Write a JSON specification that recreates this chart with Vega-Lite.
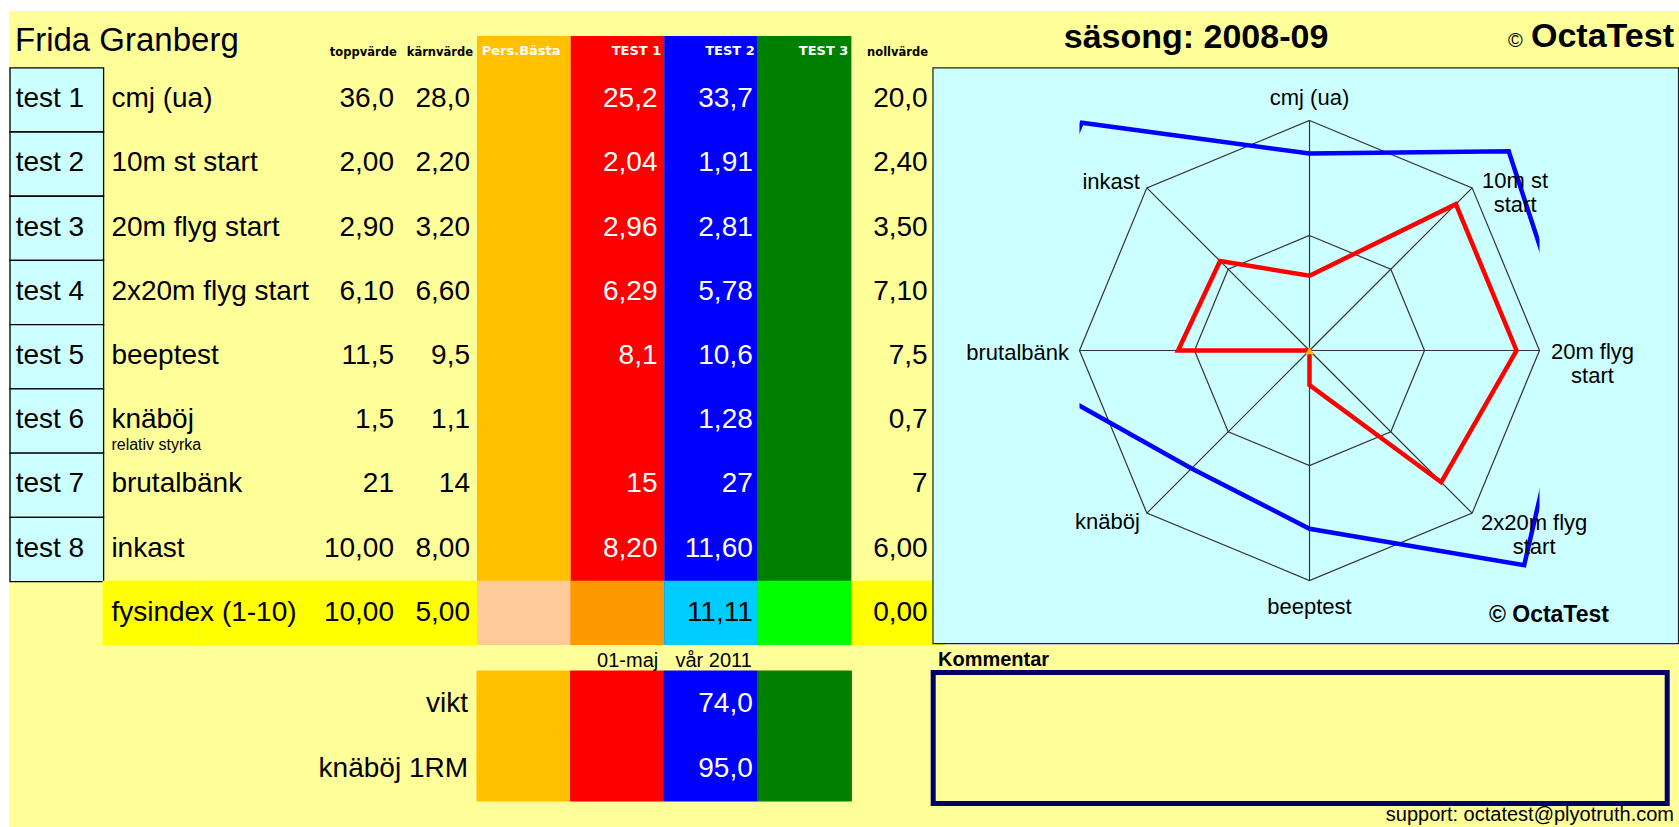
{
  "$schema": "https://vega.github.io/schema/vega-lite/v6.json",
  "background": "#FFFFFF",
  "padding": {"left": 9, "top": 11, "right": 0, "bottom": 0},
  "config": {"view": {"stroke": null}, "font": "Liberation Sans", "text": {"font": "Liberation Sans"}},
  "datasets": {
    "athlete": [{"name": "Frida Granberg", "season": "2008-09"}],
    "heads": [
      {"col": "topp", "label": "toppvärde"},
      {"col": "karn", "label": "kärnvärde"},
      {"col": "pers", "label": "Pers.Bästa"},
      {"col": "t1", "label": "TEST 1"},
      {"col": "t2", "label": "TEST 2"},
      {"col": "t3", "label": "TEST 3"},
      {"col": "noll", "label": "nollvärde"}
    ],
    "tests": [
      {"id": "test 1", "name": "cmj (ua)", "axisLabel": "cmj (ua)", "i": 0, "topp": 36.0, "karn": 28.0, "t1": 25.2, "t2": 33.7, "noll": 20.0, "refDec": 1, "testDec": 1},
      {"id": "test 2", "name": "10m st start", "axisLabel": "10m st\nstart", "i": 1, "topp": 2.00, "karn": 2.20, "t1": 2.04, "t2": 1.91, "noll": 2.40, "refDec": 2, "testDec": 2},
      {"id": "test 3", "name": "20m flyg start", "axisLabel": "20m flyg\nstart", "i": 2, "topp": 2.90, "karn": 3.20, "t1": 2.96, "t2": 2.81, "noll": 3.50, "refDec": 2, "testDec": 2},
      {"id": "test 4", "name": "2x20m flyg start", "axisLabel": "2x20m flyg\nstart", "i": 3, "topp": 6.10, "karn": 6.60, "t1": 6.29, "t2": 5.78, "noll": 7.10, "refDec": 2, "testDec": 2},
      {"id": "test 5", "name": "beeptest", "axisLabel": "beeptest", "i": 4, "topp": 11.5, "karn": 9.5, "t1": 8.1, "t2": 10.6, "noll": 7.5, "refDec": 1, "testDec": 1},
      {"id": "test 6", "name": "knäböj", "sub": "relativ styrka", "axisLabel": "knäböj", "i": 5, "topp": 1.5, "karn": 1.1, "t2": 1.28, "noll": 0.7, "refDec": 1, "testDec": 2},
      {"id": "test 7", "name": "brutalbänk", "axisLabel": "brutalbänk", "i": 6, "topp": 21, "karn": 14, "t1": 15, "t2": 27, "noll": 7, "refDec": 0, "testDec": 0},
      {"id": "test 8", "name": "inkast", "axisLabel": "inkast", "i": 7, "topp": 10.00, "karn": 8.00, "t1": 8.20, "t2": 11.60, "noll": 6.00, "refDec": 2, "testDec": 2}
    ],
    "fys": [
      {"col": "label", "text": "fysindex (1-10)"},
      {"col": "label2"},
      {"col": "topp", "v": 10},
      {"col": "karn", "v": 5},
      {"col": "pers"},
      {"col": "t1"},
      {"col": "t2", "v": 11.11},
      {"col": "t3"},
      {"col": "noll", "v": 0}
    ],
    "body": [
      {"row": "vikt", "label": "vikt", "t2": 74.0},
      {"row": "knaboj", "label": "knäböj 1RM", "t2": 95.0}
    ],
    "dates": [
      {"col": "t1", "label": "01-maj"},
      {"col": "t2", "label": "vår 2011"}
    ]
  },
  "spacing": 0,
  "vconcat": [
    {
      "spacing": 0,
      "bounds": "flush",
      "hconcat": [
        {
          "width": 936, "height": 56,
          "view": {"fill": "#FFFF99"},
          "data": {"name": "heads"},
          "layer": [
            {
              "transform": [{"filter": "indexof(['pers','t1','t2','t3'], datum.col) >= 0"}],
              "mark": {"type": "rect"},
              "encoding": {
                "x": {"field": "col", "type": "nominal", "scale": {"type": "band", "domain": ["test","label","label2","topp","karn","pers","t1","t2","t3","noll"], "paddingInner": 0, "paddingOuter": 0}, "axis": null},
                "y": {"datum": "h", "type": "nominal", "scale": {"type": "band", "domain": ["h"], "paddingInner": 0, "paddingOuter": 0.403, "align": 1}, "axis": null},
                "color": {"field": "col", "type": "nominal", "scale": {"domain": ["pers","t1","t2","t3"], "range": ["#FFC000","#FF0000","#0000FF","#008000"]}, "legend": null}
              }
            },
            {
              "transform": [{"filter": "datum.col == 'pers'"}],
              "mark": {"type": "text", "align": "left", "baseline": "middle", "dx": 4.7, "font": "DejaVu Sans", "fontWeight": "bold", "fontSize": 13, "fill": "#FFFFFF"},
              "encoding": {
                "x": {"field": "col", "type": "nominal", "bandPosition": 0, "scale": {"type": "band", "domain": ["test","label","label2","topp","karn","pers","t1","t2","t3","noll"], "paddingInner": 0, "paddingOuter": 0}, "axis": null},
                "y": {"datum": "h", "type": "nominal", "scale": {"type": "band", "domain": ["h"], "paddingInner": 0, "paddingOuter": 0.403, "align": 1}, "axis": null},
                "text": {"field": "label"}
              }
            },
            {
              "transform": [{"filter": "indexof(['t1','t2','t3'], datum.col) >= 0"}],
              "mark": {"type": "text", "align": "right", "baseline": "middle", "dx": -3, "font": "DejaVu Sans", "fontWeight": "bold", "fontSize": 13, "fill": "#FFFFFF"},
              "encoding": {
                "x": {"field": "col", "type": "nominal", "bandPosition": 1, "scale": {"type": "band", "domain": ["test","label","label2","topp","karn","pers","t1","t2","t3","noll"], "paddingInner": 0, "paddingOuter": 0}, "axis": null},
                "y": {"datum": "h", "type": "nominal", "scale": {"type": "band", "domain": ["h"], "paddingInner": 0, "paddingOuter": 0.403, "align": 1}, "axis": null},
                "text": {"field": "label"}
              }
            },
            {
              "transform": [{"filter": "datum.col == 'topp'"}],
              "mark": {"type": "text", "align": "right", "baseline": "middle", "dx": 13.3, "dy": 2, "font": "DejaVu Sans", "fontWeight": "bold", "fontSize": 11.5, "fill": "#000000"},
              "encoding": {
                "x": {"field": "col", "type": "nominal", "bandPosition": 1, "scale": {"type": "band", "domain": ["test","label","label2","topp","karn","pers","t1","t2","t3","noll"], "paddingInner": 0, "paddingOuter": 0}, "axis": null},
                "y": {"datum": "h", "type": "nominal", "scale": {"type": "band", "domain": ["h"], "paddingInner": 0, "paddingOuter": 0.403, "align": 1}, "axis": null},
                "text": {"field": "label"}
              }
            },
            {
              "transform": [{"filter": "datum.col == 'karn'"}],
              "mark": {"type": "text", "align": "right", "baseline": "middle", "dx": -4, "dy": 2, "font": "DejaVu Sans", "fontWeight": "bold", "fontSize": 11.5, "fill": "#000000"},
              "encoding": {
                "x": {"field": "col", "type": "nominal", "bandPosition": 1, "scale": {"type": "band", "domain": ["test","label","label2","topp","karn","pers","t1","t2","t3","noll"], "paddingInner": 0, "paddingOuter": 0}, "axis": null},
                "y": {"datum": "h", "type": "nominal", "scale": {"type": "band", "domain": ["h"], "paddingInner": 0, "paddingOuter": 0.403, "align": 1}, "axis": null},
                "text": {"field": "label"}
              }
            },
            {
              "transform": [{"filter": "datum.col == 'noll'"}],
              "mark": {"type": "text", "align": "right", "baseline": "middle", "dx": -17, "dy": 2, "font": "DejaVu Sans", "fontWeight": "bold", "fontSize": 11.5, "fill": "#000000"},
              "encoding": {
                "x": {"field": "col", "type": "nominal", "bandPosition": 1, "scale": {"type": "band", "domain": ["test","label","label2","topp","karn","pers","t1","t2","t3","noll"], "paddingInner": 0, "paddingOuter": 0}, "axis": null},
                "y": {"datum": "h", "type": "nominal", "scale": {"type": "band", "domain": ["h"], "paddingInner": 0, "paddingOuter": 0.403, "align": 1}, "axis": null},
                "text": {"field": "label"}
              }
            },
            {
              "data": {"name": "athlete"},
              "mark": {"type": "text", "align": "left", "baseline": "alphabetic", "dx": 6, "dy": 15, "fontSize": 33, "fill": "#000000"},
              "encoding": {
                "x": {"datum": "test", "type": "nominal", "bandPosition": 0, "scale": {"type": "band", "domain": ["test","label","label2","topp","karn","pers","t1","t2","t3","noll"], "paddingInner": 0, "paddingOuter": 0}, "axis": null},
                "y": {"datum": "h", "type": "nominal", "bandPosition": 0, "scale": {"type": "band", "domain": ["h"], "paddingInner": 0, "paddingOuter": 0.403, "align": 1}, "axis": null},
                "text": {"field": "name"}
              }
            }
          ]
        },
        {
          "width": 734, "height": 56,
          "view": {"fill": "#FFFF99"},
          "data": {"name": "athlete"},
          "layer": [
            {
              "transform": [{"calculate": "'säsong: ' + datum.season", "as": "st"}],
              "mark": {"type": "text", "align": "center", "baseline": "middle", "fontSize": 34, "fontWeight": "bold", "fill": "#000000"},
              "encoding": {
                "x": {"datum": "s", "type": "nominal", "bandPosition": 0.342, "scale": {"type": "band", "domain": ["s"], "paddingInner": 0, "paddingOuter": 0}, "axis": null},
                "y": {"datum": "s", "type": "nominal", "bandPosition": 0.477, "scale": {"type": "band", "domain": ["s"], "paddingInner": 0, "paddingOuter": 0}, "axis": null},
                "text": {"field": "st"}
              }
            },
            {
              "mark": {"type": "text", "align": "right", "baseline": "middle", "dx": -5, "fontSize": 34, "fontWeight": "bold", "fill": "#000000"},
              "encoding": {
                "x": {"datum": "s", "type": "nominal", "bandPosition": 1, "scale": {"type": "band", "domain": ["s"], "paddingInner": 0, "paddingOuter": 0}, "axis": null},
                "y": {"datum": "s", "type": "nominal", "bandPosition": 0.46, "scale": {"type": "band", "domain": ["s"], "paddingInner": 0, "paddingOuter": 0}, "axis": null},
                "text": {"value": "OctaTest"}
              }
            },
            {
              "mark": {"type": "text", "align": "right", "baseline": "middle", "fontSize": 20, "fill": "#000000"},
              "encoding": {
                "x": {"datum": "s", "type": "nominal", "bandPosition": 0.787, "scale": {"type": "band", "domain": ["s"], "paddingInner": 0, "paddingOuter": 0}, "axis": null},
                "y": {"datum": "s", "type": "nominal", "bandPosition": 0.53, "scale": {"type": "band", "domain": ["s"], "paddingInner": 0, "paddingOuter": 0}, "axis": null},
                "text": {"value": "©"}
              }
            }
          ]
        }
      ]
    },
    {
      "spacing": 134.5,
      "bounds": "flush",
      "hconcat": [
        {
          "width": 936, "height": 578,
          "view": {"fill": "#FFFF99"},
          "data": {"name": "tests"},
          "layer": [
            {
              "transform": [{"filter": "datum.i == 0"}, {"fold": ["pers","t1","t2","t3"], "as": ["col","v"]}],
              "mark": {"type": "rect"},
              "encoding": {
                "x": {"field": "col", "type": "nominal", "scale": {"type": "band", "domain": ["test","label","label2","topp","karn","pers","t1","t2","t3","noll"], "paddingInner": 0, "paddingOuter": 0}, "axis": null},
                "color": {"field": "col", "type": "nominal", "scale": {"domain": ["pers","t1","t2","t3"], "range": ["#FFC000","#FF0000","#0000FF","#008000"]}, "legend": null}
              }
            },
            {
              "mark": {"type": "rect", "fill": "#CCFFFF", "stroke": "#000000", "strokeWidth": 1.3, "xOffset": 1, "x2Offset": 1.7, "yOffset": 0.8},
              "encoding": {
                "x": {"datum": "test", "type": "nominal", "scale": {"type": "band", "domain": ["test","label","label2","topp","karn","pers","t1","t2","t3","noll"], "paddingInner": 0, "paddingOuter": 0}, "axis": null},
                "y": {"field": "id", "type": "nominal", "scale": {"type": "band", "domain": ["test 1","test 2","test 3","test 4","test 5","test 6","test 7","test 8","fys"], "paddingInner": 0, "paddingOuter": 0}, "axis": null}
              }
            },
            {
              "mark": {"type": "text", "align": "left", "baseline": "middle", "dx": 6.7, "fontSize": 28, "fill": "#000000"},
              "encoding": {
                "x": {"datum": "test", "type": "nominal", "bandPosition": 0, "scale": {"type": "band", "domain": ["test","label","label2","topp","karn","pers","t1","t2","t3","noll"], "paddingInner": 0, "paddingOuter": 0}, "axis": null},
                "y": {"field": "id", "type": "nominal", "scale": {"type": "band", "domain": ["test 1","test 2","test 3","test 4","test 5","test 6","test 7","test 8","fys"], "paddingInner": 0, "paddingOuter": 0}, "axis": null},
                "text": {"field": "id"}
              }
            },
            {
              "mark": {"type": "text", "align": "left", "baseline": "middle", "dx": 8.8, "fontSize": 28, "fill": "#000000"},
              "encoding": {
                "x": {"datum": "label", "type": "nominal", "bandPosition": 0, "scale": {"type": "band", "domain": ["test","label","label2","topp","karn","pers","t1","t2","t3","noll"], "paddingInner": 0, "paddingOuter": 0}, "axis": null},
                "y": {"field": "id", "type": "nominal", "scale": {"type": "band", "domain": ["test 1","test 2","test 3","test 4","test 5","test 6","test 7","test 8","fys"], "paddingInner": 0, "paddingOuter": 0}, "axis": null},
                "text": {"field": "name"}
              }
            },
            {
              "transform": [{"filter": "isValid(datum.sub)"}],
              "mark": {"type": "text", "align": "left", "baseline": "middle", "dx": 8.8, "dy": 25, "fontSize": 16, "fill": "#000000"},
              "encoding": {
                "x": {"datum": "label", "type": "nominal", "bandPosition": 0, "scale": {"type": "band", "domain": ["test","label","label2","topp","karn","pers","t1","t2","t3","noll"], "paddingInner": 0, "paddingOuter": 0}, "axis": null},
                "y": {"field": "id", "type": "nominal", "scale": {"type": "band", "domain": ["test 1","test 2","test 3","test 4","test 5","test 6","test 7","test 8","fys"], "paddingInner": 0, "paddingOuter": 0}, "axis": null},
                "text": {"field": "sub"}
              }
            },
            {
              "transform": [
                {"fold": ["topp","karn","t1","t2","noll"], "as": ["col","v"]},
                {"calculate": "(datum.col == 't1' || datum.col == 't2') ? datum.testDec : datum.refDec", "as": "dec"},
                {"calculate": "isValid(datum.v) ? replace(format(datum.v, '.' + datum.dec + 'f'), '.', ',') : ''", "as": "txt"}
              ],
              "encoding": {
                "x": {"field": "col", "type": "nominal", "bandPosition": 1, "scale": {"type": "band", "domain": ["test","label","label2","topp","karn","pers","t1","t2","t3","noll"], "paddingInner": 0, "paddingOuter": 0}, "axis": null},
                "y": {"field": "id", "type": "nominal", "scale": {"type": "band", "domain": ["test 1","test 2","test 3","test 4","test 5","test 6","test 7","test 8","fys"], "paddingInner": 0, "paddingOuter": 0}, "axis": null},
                "text": {"field": "txt"}
              },
              "layer": [
                {"transform": [{"filter": "datum.col == 'topp'"}], "mark": {"type": "text", "align": "right", "baseline": "middle", "dx": 10.6, "fontSize": 28, "fill": "#000000"}},
                {"transform": [{"filter": "datum.col == 'karn'"}], "mark": {"type": "text", "align": "right", "baseline": "middle", "dx": -7, "fontSize": 28, "fill": "#000000"}},
                {"transform": [{"filter": "datum.col == 't1'"}], "mark": {"type": "text", "align": "right", "baseline": "middle", "dx": -6.7, "fontSize": 28, "fill": "#FFFFFF"}},
                {"transform": [{"filter": "datum.col == 't2'"}], "mark": {"type": "text", "align": "right", "baseline": "middle", "dx": -5, "fontSize": 28, "fill": "#FFFFFF"}},
                {"transform": [{"filter": "datum.col == 'noll'"}], "mark": {"type": "text", "align": "right", "baseline": "middle", "dx": -17.3, "fontSize": 28, "fill": "#000000"}}
              ]
            },
            {
              "data": {"name": "fys"},
              "mark": "rect",
              "encoding": {
                "x": {"field": "col", "type": "nominal", "scale": {"type": "band", "domain": ["test","label","label2","topp","karn","pers","t1","t2","t3","noll"], "paddingInner": 0, "paddingOuter": 0}, "axis": null},
                "y": {"datum": "fys", "type": "nominal", "scale": {"type": "band", "domain": ["test 1","test 2","test 3","test 4","test 5","test 6","test 7","test 8","fys"], "paddingInner": 0, "paddingOuter": 0}, "axis": null},
                "fill": {"field": "col", "type": "nominal", "scale": {"domain": ["label","label2","topp","karn","pers","t1","t2","t3","noll"], "range": ["#FFFF00","#FFFF00","#FFFF00","#FFFF00","#FFCC99","#FF9900","#00CCFF","#00FF00","#FFFF00"]}, "legend": null}
              }
            },
            {
              "data": {"name": "fys"},
              "transform": [{"filter": "datum.col == 'label'"}],
              "mark": {"type": "text", "align": "left", "baseline": "middle", "dx": 8.8, "fontSize": 28, "fill": "#000000"},
              "encoding": {
                "x": {"field": "col", "type": "nominal", "bandPosition": 0, "scale": {"type": "band", "domain": ["test","label","label2","topp","karn","pers","t1","t2","t3","noll"], "paddingInner": 0, "paddingOuter": 0}, "axis": null},
                "y": {"datum": "fys", "type": "nominal", "scale": {"type": "band", "domain": ["test 1","test 2","test 3","test 4","test 5","test 6","test 7","test 8","fys"], "paddingInner": 0, "paddingOuter": 0}, "axis": null},
                "text": {"field": "text"}
              }
            },
            {
              "data": {"name": "fys"},
              "transform": [
                {"filter": "isValid(datum.v)"},
                {"calculate": "replace(format(datum.v, '.2f'), '.', ',')", "as": "txt"}
              ],
              "encoding": {
                "x": {"field": "col", "type": "nominal", "bandPosition": 1, "scale": {"type": "band", "domain": ["test","label","label2","topp","karn","pers","t1","t2","t3","noll"], "paddingInner": 0, "paddingOuter": 0}, "axis": null},
                "y": {"datum": "fys", "type": "nominal", "scale": {"type": "band", "domain": ["test 1","test 2","test 3","test 4","test 5","test 6","test 7","test 8","fys"], "paddingInner": 0, "paddingOuter": 0}, "axis": null},
                "text": {"field": "txt"}
              },
              "layer": [
                {"transform": [{"filter": "datum.col == 'topp'"}], "mark": {"type": "text", "align": "right", "baseline": "middle", "dx": 10.6, "fontSize": 28, "fill": "#000000"}},
                {"transform": [{"filter": "datum.col == 'karn'"}], "mark": {"type": "text", "align": "right", "baseline": "middle", "dx": -7, "fontSize": 28, "fill": "#000000"}},
                {"transform": [{"filter": "datum.col == 't2'"}], "mark": {"type": "text", "align": "right", "baseline": "middle", "dx": -5, "fontSize": 28, "fill": "#000000"}},
                {"transform": [{"filter": "datum.col == 'noll'"}], "mark": {"type": "text", "align": "right", "baseline": "middle", "dx": -17.3, "fontSize": 28, "fill": "#000000"}}
              ]
            }
          ]
        },
        {
          "width": 460, "height": 578,
          "data": {"name": "tests"},
          "layer": [
            {
              "data": {"name": "athlete"},
              "mark": {"type": "rect", "fill": "#CCFFFF", "stroke": "#222222", "strokeWidth": 1.2},
              "encoding": {
                "x": {"datum": -1.637, "type": "quantitative", "scale": {"domain": [-1, 1], "nice": false, "zero": false}, "axis": null},
                "x2": {"datum": 1.6043},
                "y": {"datum": -1.274, "type": "quantitative", "scale": {"domain": [-1.2804, 1.2326], "nice": false, "zero": false}, "axis": null},
                "y2": {"datum": 1.2290}
              }
            },
            {
              "transform": [
                {"calculate": "sin(datum.i * PI / 4)", "as": "gx"},
                {"calculate": "cos(datum.i * PI / 4)", "as": "gy"},
                {"calculate": "0.5 * datum.gx", "as": "hx"},
                {"calculate": "0.5 * datum.gy", "as": "hy"}
              ],
              "layer": [
                {
                  "mark": {"type": "line", "interpolate": "linear-closed", "color": "#333333", "strokeWidth": 1.2},
                  "encoding": {
                    "x": {"field": "gx", "type": "quantitative", "scale": {"domain": [-1, 1], "nice": false, "zero": false}, "axis": null},
                    "y": {"field": "gy", "type": "quantitative", "scale": {"domain": [-1.2804, 1.2326], "nice": false, "zero": false}, "axis": null},
                    "order": {"field": "i", "type": "quantitative"}
                  }
                },
                {
                  "mark": {"type": "line", "interpolate": "linear-closed", "color": "#333333", "strokeWidth": 1.2},
                  "encoding": {
                    "x": {"field": "hx", "type": "quantitative", "scale": {"domain": [-1, 1], "nice": false, "zero": false}, "axis": null},
                    "y": {"field": "hy", "type": "quantitative", "scale": {"domain": [-1.2804, 1.2326], "nice": false, "zero": false}, "axis": null},
                    "order": {"field": "i", "type": "quantitative"}
                  }
                },
                {
                  "mark": {"type": "rule", "color": "#333333", "strokeWidth": 1.2},
                  "encoding": {
                    "x": {"field": "gx", "type": "quantitative", "scale": {"domain": [-1, 1], "nice": false, "zero": false}, "axis": null},
                    "y": {"field": "gy", "type": "quantitative", "scale": {"domain": [-1.2804, 1.2326], "nice": false, "zero": false}, "axis": null},
                    "x2": {"datum": 0},
                    "y2": {"datum": 0}
                  }
                }
              ]
            },
            {
              "transform": [
                {"fold": ["pers","t1","t2","t3"], "as": ["col","v"]},
                {"calculate": "isValid(datum.v) ? (datum.v - datum.noll) / (datum.topp - datum.noll) : 0", "as": "r"},
                {"calculate": "datum.r * sin(datum.i * PI / 4)", "as": "px"},
                {"calculate": "datum.r * cos(datum.i * PI / 4)", "as": "py"}
              ],
              "layer": [
                {
                  "transform": [{"filter": "datum.col == 't1' || datum.col == 't2'"}],
                  "mark": {"type": "line", "interpolate": "linear-closed", "strokeWidth": 4.5, "clip": true},
                  "encoding": {
                    "x": {"field": "px", "type": "quantitative", "scale": {"domain": [-1, 1], "nice": false, "zero": false}, "axis": null},
                    "y": {"field": "py", "type": "quantitative", "scale": {"domain": [-1.2804, 1.2326], "nice": false, "zero": false}, "axis": null},
                    "color": {"field": "col", "type": "nominal", "scale": {"domain": ["pers","t1","t2","t3"], "range": ["#FFC000","#FF0000","#0000FF","#008000"]}, "legend": null},
                    "order": {"field": "i", "type": "quantitative"}
                  }
                },
                {
                  "transform": [{"filter": "datum.col == 'pers' && datum.i == 0"}],
                  "mark": {"type": "point", "shape": "triangle-up", "filled": true, "size": 70, "opacity": 1},
                  "encoding": {
                    "x": {"field": "px", "type": "quantitative", "scale": {"domain": [-1, 1], "nice": false, "zero": false}, "axis": null},
                    "y": {"field": "py", "type": "quantitative", "scale": {"domain": [-1.2804, 1.2326], "nice": false, "zero": false}, "axis": null},
                    "color": {"field": "col", "type": "nominal", "scale": {"domain": ["pers","t1","t2","t3"], "range": ["#FFC000","#FF0000","#0000FF","#008000"]}, "legend": null}
                  }
                }
              ]
            },
            {
              "transform": [
                {"calculate": "sin(datum.i * PI / 4)", "as": "lx"},
                {"calculate": "cos(datum.i * PI / 4)", "as": "ly"}
              ],
              "encoding": {
                "x": {"field": "lx", "type": "quantitative", "scale": {"domain": [-1, 1], "nice": false, "zero": false}, "axis": null},
                "y": {"field": "ly", "type": "quantitative", "scale": {"domain": [-1.2804, 1.2326], "nice": false, "zero": false}, "axis": null},
                "text": {"field": "axisLabel"}
              },
              "layer": [
                {"transform": [{"filter": "datum.i == 0"}], "mark": {"type": "text", "align": "center", "baseline": "middle", "dy": -22, "fontSize": 22, "fill": "#000000", "lineBreak": "\n", "lineHeight": 24}},
                {"transform": [{"filter": "datum.i == 1"}], "mark": {"type": "text", "align": "center", "baseline": "middle", "dx": 43, "dy": -7, "fontSize": 22, "fill": "#000000", "lineBreak": "\n", "lineHeight": 24}},
                {"transform": [{"filter": "datum.i == 2"}], "mark": {"type": "text", "align": "center", "baseline": "middle", "dx": 53, "dy": 1.5, "fontSize": 22, "fill": "#000000", "lineBreak": "\n", "lineHeight": 24}},
                {"transform": [{"filter": "datum.i == 3"}], "mark": {"type": "text", "align": "center", "baseline": "middle", "dx": 62, "dy": 10, "fontSize": 22, "fill": "#000000", "lineBreak": "\n", "lineHeight": 24}},
                {"transform": [{"filter": "datum.i == 4"}], "mark": {"type": "text", "align": "center", "baseline": "middle", "dy": 26, "fontSize": 22, "fill": "#000000", "lineBreak": "\n", "lineHeight": 24}},
                {"transform": [{"filter": "datum.i == 5"}], "mark": {"type": "text", "align": "right", "baseline": "middle", "dx": -7, "dy": 9, "fontSize": 22, "fill": "#000000", "lineBreak": "\n", "lineHeight": 24}},
                {"transform": [{"filter": "datum.i == 6"}], "mark": {"type": "text", "align": "right", "baseline": "middle", "dx": -10.5, "dy": 2, "fontSize": 22, "fill": "#000000", "lineBreak": "\n", "lineHeight": 24}},
                {"transform": [{"filter": "datum.i == 7"}], "mark": {"type": "text", "align": "right", "baseline": "middle", "dx": -7, "dy": -6, "fontSize": 22, "fill": "#000000", "lineBreak": "\n", "lineHeight": 24}}
              ]
            },
            {
              "data": {"name": "athlete"},
              "mark": {"type": "text", "align": "center", "baseline": "middle", "fontSize": 23, "fontWeight": "bold", "fill": "#000000"},
              "encoding": {
                "x": {"datum": 1.041, "type": "quantitative", "scale": {"domain": [-1, 1], "nice": false, "zero": false}, "axis": null},
                "y": {"datum": -1.15, "type": "quantitative", "scale": {"domain": [-1.2804, 1.2326], "nice": false, "zero": false}, "axis": null},
                "text": {"value": "© OctaTest"}
              }
            }
          ]
        }
      ]
    },
    {
      "spacing": 0,
      "bounds": "flush",
      "hconcat": [
        {
          "width": 936, "height": 182,
          "view": {"fill": "#FFFF99"},
          "data": {"name": "body"},
          "layer": [
            {
              "transform": [{"fold": ["pers","t1","t2","t3"], "as": ["col","v"]}],
              "mark": {"type": "rect", "strokeWidth": 1},
              "encoding": {
                "x": {"field": "col", "type": "nominal", "scale": {"type": "band", "domain": ["test","label","label2","topp","karn","pers","t1","t2","t3","noll"], "paddingInner": 0, "paddingOuter": 0}, "axis": null},
                "y": {"field": "row", "type": "nominal", "scale": {"type": "band", "domain": ["vikt","knaboj"], "paddingInner": 0, "paddingOuter": 0.4, "align": 0.5}, "axis": null},
                "color": {"field": "col", "type": "nominal", "scale": {"domain": ["pers","t1","t2","t3"], "range": ["#FFC000","#FF0000","#0000FF","#008000"]}, "legend": null},
                "stroke": {"field": "col", "type": "nominal", "scale": {"domain": ["pers","t1","t2","t3"], "range": ["#FFC000","#FF0000","#0000FF","#008000"]}, "legend": null}
              }
            },
            {
              "mark": {"type": "text", "align": "right", "baseline": "middle", "dx": -9, "fontSize": 28, "fill": "#000000"},
              "encoding": {
                "x": {"datum": "karn", "type": "nominal", "bandPosition": 1, "scale": {"type": "band", "domain": ["test","label","label2","topp","karn","pers","t1","t2","t3","noll"], "paddingInner": 0, "paddingOuter": 0}, "axis": null},
                "y": {"field": "row", "type": "nominal", "scale": {"type": "band", "domain": ["vikt","knaboj"], "paddingInner": 0, "paddingOuter": 0.4, "align": 0.5}, "axis": null},
                "text": {"field": "label"}
              }
            },
            {
              "transform": [{"calculate": "replace(format(datum.t2, '.1f'), '.', ',')", "as": "txt"}],
              "mark": {"type": "text", "align": "right", "baseline": "middle", "dx": -5, "fontSize": 28, "fill": "#FFFFFF"},
              "encoding": {
                "x": {"datum": "t2", "type": "nominal", "bandPosition": 1, "scale": {"type": "band", "domain": ["test","label","label2","topp","karn","pers","t1","t2","t3","noll"], "paddingInner": 0, "paddingOuter": 0}, "axis": null},
                "y": {"field": "row", "type": "nominal", "scale": {"type": "band", "domain": ["vikt","knaboj"], "paddingInner": 0, "paddingOuter": 0.4, "align": 0.5}, "axis": null},
                "text": {"field": "txt"}
              }
            },
            {
              "data": {"name": "dates"},
              "mark": {"type": "text", "align": "right", "baseline": "alphabetic", "dx": -6, "dy": -4, "fontSize": 20, "fill": "#000000"},
              "encoding": {
                "x": {"field": "col", "type": "nominal", "bandPosition": 1, "scale": {"type": "band", "domain": ["test","label","label2","topp","karn","pers","t1","t2","t3","noll"], "paddingInner": 0, "paddingOuter": 0}, "axis": null},
                "y": {"datum": "vikt", "type": "nominal", "bandPosition": 0, "scale": {"type": "band", "domain": ["vikt","knaboj"], "paddingInner": 0, "paddingOuter": 0.4, "align": 0.5}, "axis": null},
                "text": {"field": "label"}
              }
            }
          ]
        },
        {
          "width": 734, "height": 182,
          "view": {"fill": "#FFFF99"},
          "data": {"name": "athlete"},
          "layer": [
            {
              "mark": {"type": "rect", "fill": "#FFFF99", "stroke": "#000066", "strokeWidth": 5, "xOffset": -11.8, "x2Offset": -3, "yOffset": 2.5, "y2Offset": -2.5},
              "encoding": {
                "x": {"datum": "c", "type": "nominal", "scale": {"type": "band", "domain": ["c"], "paddingInner": 0, "paddingOuter": 0}, "axis": null},
                "y": {"datum": "box", "type": "nominal", "scale": {"type": "band", "domain": ["box"], "paddingInner": 0, "paddingOuter": 0.1947, "align": 0.49}, "axis": null}
              }
            },
            {
              "mark": {"type": "text", "align": "left", "baseline": "alphabetic", "dx": -7, "dy": -4, "fontSize": 20, "fontWeight": "bold", "fill": "#000000"},
              "encoding": {
                "x": {"datum": "c", "type": "nominal", "bandPosition": 0, "scale": {"type": "band", "domain": ["c"], "paddingInner": 0, "paddingOuter": 0}, "axis": null},
                "y": {"datum": "box", "type": "nominal", "bandPosition": 0, "scale": {"type": "band", "domain": ["box"], "paddingInner": 0, "paddingOuter": 0.1947, "align": 0.49}, "axis": null},
                "text": {"value": "Kommentar"}
              }
            },
            {
              "mark": {"type": "text", "align": "right", "baseline": "alphabetic", "dx": -5, "dy": 20, "fontSize": 20, "fill": "#000000"},
              "encoding": {
                "x": {"datum": "c", "type": "nominal", "bandPosition": 1, "scale": {"type": "band", "domain": ["c"], "paddingInner": 0, "paddingOuter": 0}, "axis": null},
                "y": {"datum": "box", "type": "nominal", "bandPosition": 1, "scale": {"type": "band", "domain": ["box"], "paddingInner": 0, "paddingOuter": 0.1947, "align": 0.49}, "axis": null},
                "text": {"value": "support: octatest@plyotruth.com"}
              }
            }
          ]
        }
      ]
    }
  ]
}
